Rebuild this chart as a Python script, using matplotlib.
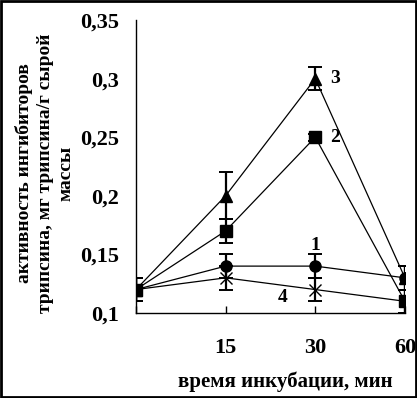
import matplotlib
matplotlib.use("Agg")
import matplotlib.pyplot as plt
from matplotlib.patches import Rectangle

plt.rcParams['font.family'] = ['Liberation Serif', 'DejaVu Serif']
plt.rcParams['font.weight'] = 'bold'

categories = ["", "15", "30", "60"]
s1 = [0.12, 0.14, 0.14, 0.13]
s2 = [0.12, 0.17, 0.25, 0.11]
s3 = [0.12, 0.20, 0.30, 0.13]
s4 = [0.12, 0.13, 0.12, 0.11]
e1 = [0.01, 0.01, 0.01, 0.01]
e2 = [0.01, 0.01, 0.003, 0.01]
e3 = [0.01, 0.02, 0.01, 0.01]
e4 = [0.01, 0.01, 0.01, 0.01]
series_labels = ["1", "2", "3", "4"]
yticks = [0.1, 0.15, 0.2, 0.25, 0.3, 0.35]
ytick_labels = ["0,1", "0,15", "0,2", "0,25", "0,3", "0,35"]

fig = plt.figure(figsize=(4.17, 3.98), dpi=100)
ax = fig.add_axes([0.326, 0.2136, 0.645, 0.7361])

x = list(range(len(categories)))
series = [(s1, e1, 'o', 8), (s2, e2, 's', 8), (s3, e3, '^', 9), (s4, e4, 'x', 8)]
for vals, errs, m, ms in series:
    ax.errorbar(x, vals, yerr=errs, fmt='none', ecolor='black', elinewidth=1.6,
                capsize=5, capthick=1.4, zorder=2)
    ax.plot(x, vals, color='black', lw=0.9, marker=m, markersize=ms,
            markerfacecolor='black', markeredgecolor='black',
            markeredgewidth=1.0, zorder=3)

ax.set_xlim(0, 3)
ax.set_ylim(0.1, 0.35)
ax.set_xticks(x)
ax.set_xticklabels(categories, fontsize=16, fontweight='bold')
ax.tick_params(axis='x', direction='in', length=5, width=1, pad=18)
ax.set_yticks(yticks)
ax.set_yticklabels(ytick_labels, fontsize=16, fontweight='bold')
ax.tick_params(axis='y', length=0, pad=12)
ax.set_yticks([0.35], minor=True)
ax.tick_params(axis='y', which='minor', direction='in', length=5, width=1)
for sp in ['top', 'right']:
    ax.spines[sp].set_visible(False)
for sp in ['left', 'bottom']:
    ax.spines[sp].set_linewidth(1.0)

ax.text(2.17, s3[2], series_labels[2], fontsize=14, fontweight='bold', va='center', ha='left')
ax.text(2.17, s2[2], series_labels[1], fontsize=14, fontweight='bold', va='center', ha='left')
ax.text(2.0, 0.158, series_labels[0], fontsize=14, fontweight='bold', va='center', ha='center')
ax.text(1.64, 0.113, series_labels[3], fontsize=14, fontweight='bold', va='center', ha='center')

ax.set_xlabel("время инкубации, мин", fontsize=15, fontweight='bold')
ax.xaxis.set_label_coords(0.555, -0.235)
ax.xaxis.label.set_va('center')
fig.text(0.108, 0.565, "активность ингибиторов\nтрипсина, мг трипсина/г сырой\nмассы",
         rotation=90, ha='center', va='center', fontsize=14, fontweight='bold',
         linespacing=1.3, multialignment='center')

fig.patches.append(Rectangle((0.002, 0.002), 0.996, 0.996, transform=fig.transFigure,
                             fill=False, edgecolor='black', lw=2))
fig.savefig("out.png", dpi=100)
